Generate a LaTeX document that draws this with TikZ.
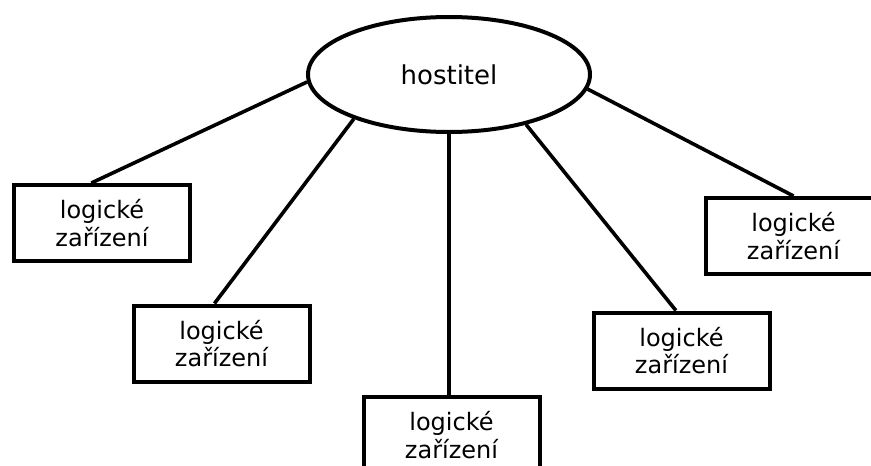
\documentclass[tikz,border=0pt]{standalone}
\usepackage{fontspec}
\setmainfont{DejaVu Sans}
\usepackage{tikz}
\usetikzlibrary{shapes.geometric}
\tikzstyle{host} = [ellipse, minimum width=282pt, minimum height=115pt, inner sep=0pt, text centered, draw=black, line width=4pt, fill=white, font=\fontsize{26}{30}\selectfont]
\tikzstyle{device} = [rectangle, minimum width=176pt, minimum height=76pt, inner sep=0pt, align=center, draw=black, line width=4pt, fill=white, font=\fontsize{24}{27.5}\selectfont]
\tikzstyle{link} = [line width=3.6pt, black]

\begin{document}
\begin{tikzpicture}[x=1pt, y=-1pt]
		\useasboundingbox (0,0) rectangle (871,466);
		\clip (0,0) rectangle (871,466);
		\node (hostitel) [host] at (449,74.5) {hostitel};
		\node (dev1) [device] at (102,223) {logické\\zařízení};
		\node (dev2) [device] at (221.5,343.5) {logické\\zařízení};
		\node (dev3) [device] at (451.5,435) {logické\\zařízení};
		\node (dev4) [device] at (681.5,350.5) {logické\\zařízení};
		\node (dev5) [device] at (793.5,236) {logické\\zařízení};
		
		\draw [link] (hostitel.183) -- (dev1.105);
		\draw [link] (hostitel.205) -- (dev2.100);
		\draw [link] (hostitel.south) -- (hostitel.south |- dev3.north);
		\draw [link] (hostitel.327) -- (dev4.98);
		\draw [link] (hostitel.354) -- (dev5.north);
		
		\end{tikzpicture}
\end{document}
